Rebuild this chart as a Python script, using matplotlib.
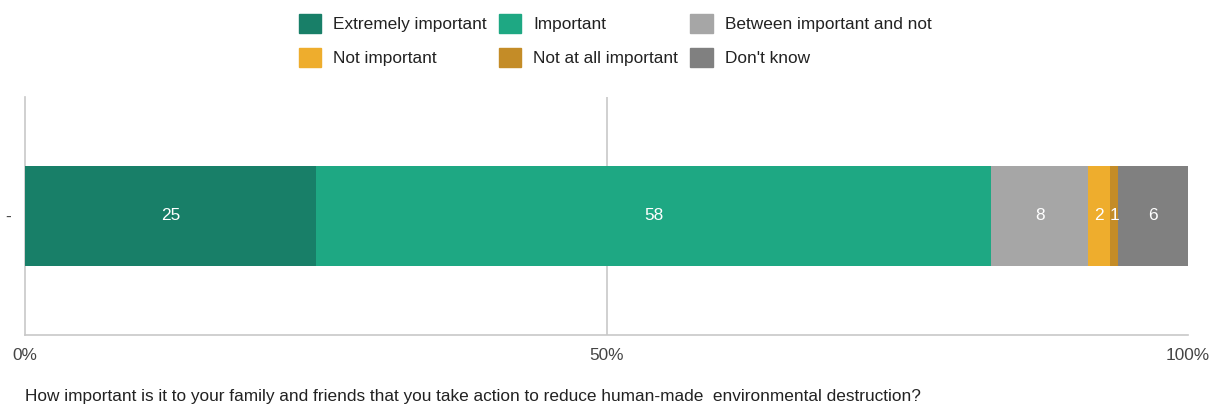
import matplotlib.pyplot as plt
from matplotlib.patches import Patch

# Data (percent of respondents)
categories = ['Extremely important', 'Important', 'Between important and not',
              'Not important', 'Not at all important', "Don't know"]
values = [25.0, 58.1, 8.3, 1.9, 0.7, 6.0]
labels = ['25', '58', '8', '2', '1', '6']
colors = ['#187f68', '#1ea883', '#a6a6a6', '#eead2d', '#c48c27', '#808080']
x_ticks = [0, 50, 100]
x_ticklabels = ['0%', '50%', '100%']
question = ('How important is it to your family and friends that you take action '
            'to reduce human-made  environmental destruction?')

plt.rcParams['font.family'] = ['Liberation Sans', 'DejaVu Sans']
FS = 12.4

fig = plt.figure(figsize=(12.13, 4.05), dpi=100)
ax = fig.add_axes([25 / 1213, 1 - 335 / 405, 1163 / 1213, 238 / 405])

left = 0
for val, lab, col in zip(values, labels, colors):
    ax.barh(0, val, left=left, height=0.416, color=col, zorder=3)
    ax.text(left + val / 2, 0, lab, ha='center', va='center',
            color='white', fontsize=FS, zorder=4)
    left += val

ax.set_xlim(0, 100)
ax.set_ylim(-0.5, 0.5)
ax.axvline(50, color='#c8c8c8', lw=1.2, zorder=1)

for s in ['top', 'right']:
    ax.spines[s].set_visible(False)
for s in ['left', 'bottom']:
    ax.spines[s].set_color('#c8c8c8')
    ax.spines[s].set_linewidth(1.2)

ax.set_xticks(x_ticks)
ax.set_xticklabels(x_ticklabels)
ax.set_yticks([0])
ax.set_yticklabels(['-'])
ax.tick_params(axis='both', length=0, labelsize=FS, colors='#444444')
ax.tick_params(axis='x', pad=9)
ax.tick_params(axis='y', pad=10)

# legend ordered column-wise so rows read like the reference
order = [0, 3, 1, 4, 2, 5]
handles = [Patch(facecolor=colors[i], edgecolor=colors[i]) for i in order]
fig.legend(handles, [categories[i] for i in order], ncol=3,
           loc='upper center', bbox_to_anchor=(0.507, 0.987),
           frameon=False, fontsize=FS, borderpad=0,
           handlelength=1.3, handleheight=1.3, handletextpad=0.7,
           labelspacing=0.9, columnspacing=0.7, labelcolor='#222222')

fig.text(25 / 1213, 1 - 396 / 405, question, ha='left', va='center',
         fontsize=FS, color='#222222')

fig.savefig('out.png', dpi=100)
